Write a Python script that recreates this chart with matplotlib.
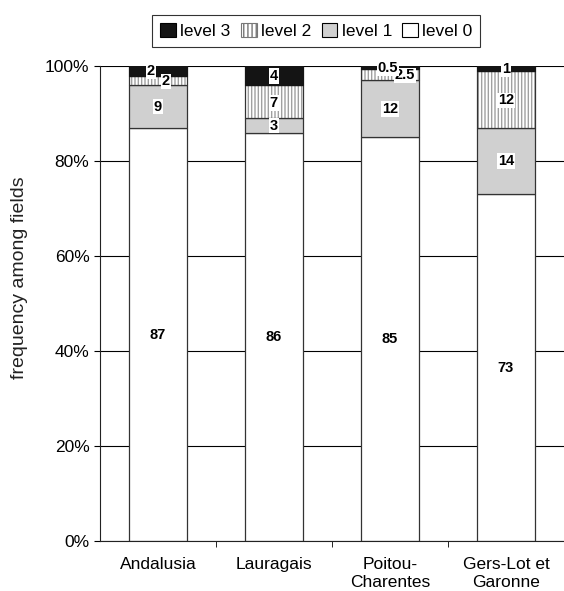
import matplotlib.pyplot as plt
import numpy as np
from matplotlib.patches import Patch

plt.rcParams['font.family'] = ['Liberation Sans', 'DejaVu Sans']

regions = ['Andalusia', 'Lauragais', 'Poitou-\nCharentes', 'Gers-Lot et\nGaronne']
level0 = [87, 86, 85, 73]
level1 = [9, 3, 12, 14]
level2 = [2, 7, 2.5, 12]
level3 = [2, 4, 0.5, 1]

# horizontal nudges for the crowded labels (category units)
dx2 = [0.07, 0, 0.13, 0]
dx3 = [-0.06, 0, -0.02, 0]

fig = plt.figure(figsize=(5.64, 5.91), dpi=100)
ax = fig.add_axes([0.177, 0.084, 0.823, 0.804])

x = np.arange(len(regions))
w = 0.5
edge = '#333333'

l0 = np.array(level0, float)
l1 = np.array(level1, float)
l2 = np.array(level2, float)
l3 = np.array(level3, float)

ax.bar(x, l0, w, color='white', edgecolor=edge, lw=0.9, zorder=2)
ax.bar(x, l1, w, bottom=l0, color='#d0d0d0', edgecolor=edge, lw=0.9, zorder=2)
ax.bar(x, l2, w, bottom=l0 + l1, color='white', edgecolor='#a0a0a0', lw=0,
       hatch='|||||', zorder=2)
ax.bar(x, l2, w, bottom=l0 + l1, fill=False, edgecolor=edge, lw=0.9, zorder=3)
ax.bar(x, l3, w, bottom=l0 + l1 + l2, color='#141414', edgecolor='#141414', lw=0.9, zorder=3)

fs = 10.5
box = dict(facecolor='white', edgecolor='none', pad=0.5)
for i in x:
    ax.text(i, l0[i] / 2, f'{level0[i]:g}', ha='center', va='center',
            fontsize=fs, fontweight='bold', zorder=5)
    ax.text(i, l0[i] + l1[i] / 2, f'{level1[i]:g}', ha='center', va='center',
            fontsize=fs, fontweight='bold', zorder=5, bbox=box)
    ax.text(i + dx2[i], l0[i] + l1[i] + l2[i] / 2 - 0.2, f'{level2[i]:g}', ha='center',
            va='center', fontsize=fs, fontweight='bold', zorder=5, bbox=box)
    ax.text(i + dx3[i], l0[i] + l1[i] + l2[i] + l3[i] / 2 - 0.1, f'{level3[i]:g}',
            ha='center', va='center', fontsize=fs, fontweight='bold', zorder=6, bbox=box)

ax.set_xlim(-0.5, 3.5)
ax.set_ylim(0, 100)
ax.set_yticks(range(0, 101, 20))
ax.set_yticklabels([f'{v}%' for v in range(0, 101, 20)], fontsize=12.5)
ax.yaxis.grid(True, color='black', lw=0.8, zorder=0)
ax.set_axisbelow(True)
ax.set_xticks(x)
ax.set_xticklabels(regions, fontsize=12.5, linespacing=1.3)
ax.set_xticks([0.5, 1.5, 2.5], minor=True)
ax.tick_params(axis='x', which='major', length=0, pad=11)
ax.tick_params(axis='x', which='minor', length=4, direction='out')
ax.tick_params(axis='y', length=4, direction='out')
ax.set_ylabel('frequency among fields', fontsize=14, color='#222222')
ax.yaxis.set_label_coords(-0.155, 0.554)
for s in ['top', 'right']:
    ax.spines[s].set_visible(False)
for s in ['left', 'bottom']:
    ax.spines[s].set_color('#222222')

handles = [Patch(facecolor='#141414', edgecolor='black', lw=0.8),
           Patch(facecolor='white', edgecolor='#777777', hatch='||||', lw=0.8),
           Patch(facecolor='#d0d0d0', edgecolor='black', lw=0.8),
           Patch(facecolor='white', edgecolor='black', lw=0.8)]
leg = fig.legend(handles, ['level 3', 'level 2', 'level 1', 'level 0'],
                 loc='center', bbox_to_anchor=(0.561, 0.9475), ncol=4,
                 fontsize=12.5, frameon=True, fancybox=False, handlelength=0.9,
                 handleheight=0.9, handletextpad=0.25, columnspacing=0.6,
                 borderpad=0.45, edgecolor='black')
leg.get_frame().set_linewidth(0.8)

fig.savefig('out.png', dpi=100)
